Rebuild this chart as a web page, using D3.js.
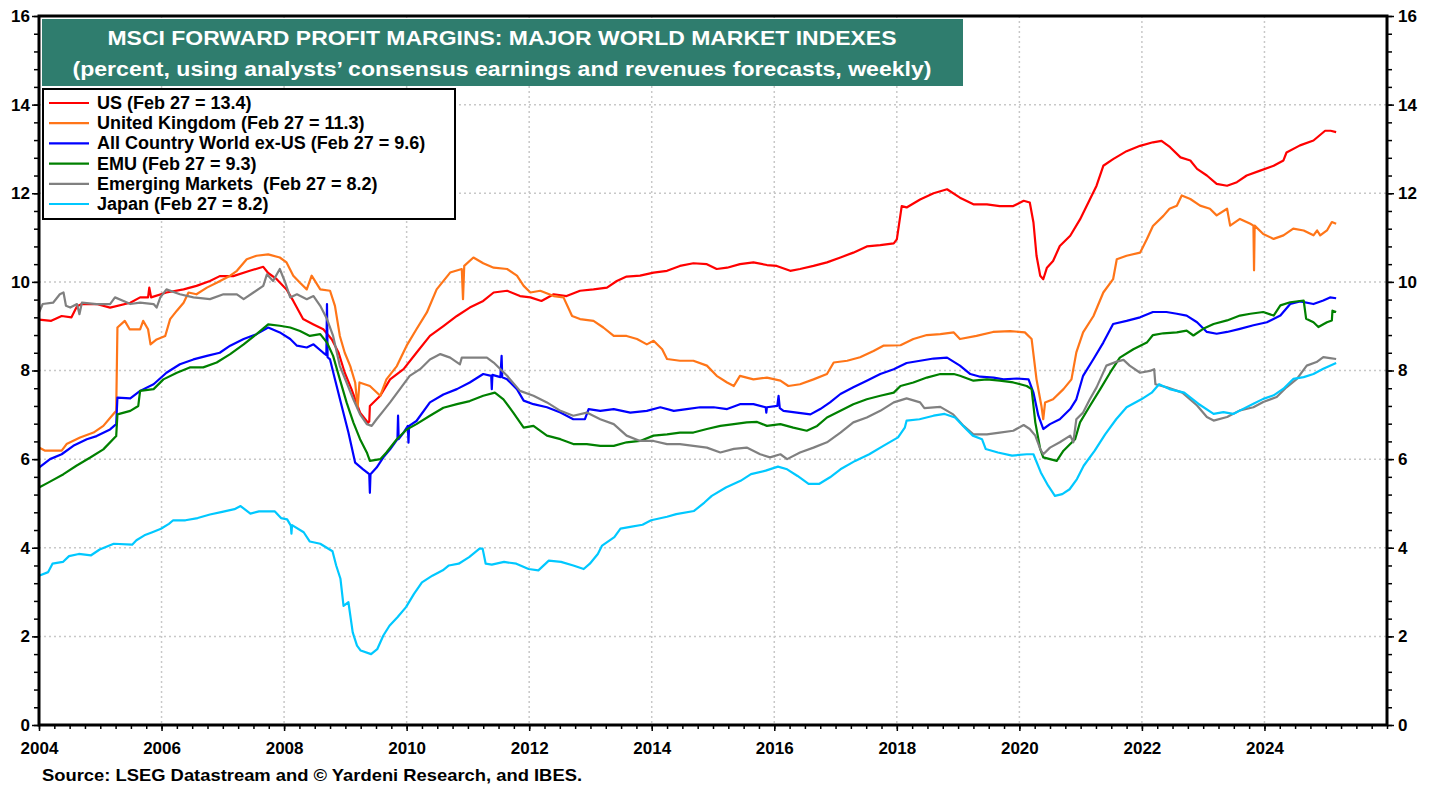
<!DOCTYPE html>
<html>
<head>
<meta charset="utf-8">
<script src="https://cdn.jsdelivr.net/npm/d3@7"></script>
<style>
  body { margin: 0; background: #fff; }
  text { font-family: Arial, "Liberation Sans", sans-serif; font-weight: bold; }
  .grid line { stroke: #c8c8c8; stroke-width: 1.5; stroke-dasharray: 2,3; }
  .axis text { font-size: 17px; fill: #000; }
  .axis line { stroke: #000; stroke-width: 1.5; }
  .legend text { white-space: pre; }
</style>
</head>
<body>
<div id="chart"></div>
<script>
// values, [year, percent]
const us = [[2004.0,9.15],[2004.2,9.12],[2004.37,9.23],[2004.53,9.2],[2004.62,9.45],[2004.7,9.5],[2004.94,9.5],[2005.16,9.42],[2005.49,9.53],[2005.65,9.65],[2005.78,9.65],[2005.8,9.87],[2005.83,9.65],[2006.08,9.76],[2006.36,9.83],[2006.57,9.91],[2006.79,10.02],[2006.95,10.13],[2007.17,10.13],[2007.44,10.25],[2007.66,10.34],[2007.74,10.2],[2007.88,10.06],[2008.04,9.83],[2008.15,9.57],[2008.31,9.16],[2008.48,9.04],[2008.64,8.93],[2008.78,8.7],[2008.89,8.4],[2008.99,7.95],[2009.1,7.58],[2009.24,7.05],[2009.37,6.82],[2009.39,6.85],[2009.4,7.2],[2009.57,7.43],[2009.73,7.8],[2009.95,8.03],[2010.16,8.4],[2010.38,8.78],[2010.6,9.0],[2010.82,9.23],[2011.03,9.42],[2011.25,9.57],[2011.42,9.76],[2011.64,9.8],[2011.85,9.68],[2012.02,9.65],[2012.2,9.57],[2012.4,9.72],[2012.61,9.68],[2012.83,9.8],[2013.05,9.83],[2013.27,9.87],[2013.43,10.02],[2013.59,10.12],[2013.81,10.14],[2014.03,10.21],[2014.25,10.25],[2014.46,10.36],[2014.68,10.42],[2014.9,10.4],[2015.06,10.29],[2015.23,10.32],[2015.44,10.4],[2015.66,10.44],[2015.88,10.38],[2016.04,10.36],[2016.26,10.25],[2016.42,10.29],[2016.64,10.36],[2016.86,10.44],[2017.08,10.55],[2017.29,10.66],[2017.51,10.8],[2017.73,10.83],[2017.95,10.87],[2018.0,10.96],[2018.08,11.71],[2018.16,11.68],[2018.38,11.86],[2018.6,12.0],[2018.82,12.09],[2019.03,11.9],[2019.25,11.75],[2019.47,11.75],[2019.68,11.71],[2019.9,11.71],[2020.07,11.83],[2020.17,11.79],[2020.23,11.34],[2020.28,10.59],[2020.34,10.14],[2020.39,10.06],[2020.45,10.32],[2020.55,10.47],[2020.66,10.81],[2020.83,11.04],[2020.99,11.41],[2021.15,11.86],[2021.26,12.17],[2021.37,12.62],[2021.53,12.77],[2021.75,12.95],[2021.97,13.07],[2022.18,13.15],[2022.32,13.18],[2022.46,13.04],[2022.63,12.81],[2022.79,12.74],[2022.9,12.55],[2023.06,12.4],[2023.22,12.21],[2023.39,12.17],[2023.55,12.25],[2023.71,12.4],[2023.93,12.51],[2024.15,12.62],[2024.31,12.74],[2024.36,12.92],[2024.58,13.08],[2024.8,13.19],[2024.99,13.41],[2025.08,13.41],[2025.17,13.38]];

const uk = [[2004.0,6.26],[2004.1,6.19],[2004.37,6.19],[2004.45,6.34],[2004.67,6.49],[2004.89,6.6],[2005.05,6.75],[2005.19,6.98],[2005.26,7.09],[2005.28,8.97],[2005.4,9.12],[2005.48,8.93],[2005.65,8.93],[2005.7,9.12],[2005.78,8.93],[2005.82,8.59],[2005.92,8.7],[2006.06,8.78],[2006.14,9.16],[2006.25,9.35],[2006.36,9.53],[2006.44,9.76],[2006.57,9.72],[2006.74,9.87],[2006.9,9.98],[2007.12,10.14],[2007.23,10.25],[2007.39,10.51],[2007.55,10.59],[2007.74,10.62],[2007.93,10.55],[2008.04,10.44],[2008.15,10.14],[2008.26,9.98],[2008.37,9.83],[2008.45,10.14],[2008.59,9.83],[2008.75,9.8],[2008.83,9.46],[2008.91,8.78],[2008.99,8.4],[2009.08,8.1],[2009.16,7.73],[2009.2,7.16],[2009.23,7.73],[2009.4,7.65],[2009.57,7.43],[2009.67,7.8],[2009.84,8.1],[2010.0,8.56],[2010.16,8.93],[2010.33,9.31],[2010.49,9.83],[2010.71,10.21],[2010.9,10.29],[2010.92,9.61],[2010.94,10.36],[2011.09,10.55],[2011.25,10.42],[2011.42,10.32],[2011.64,10.29],[2011.8,10.14],[2011.91,9.91],[2012.02,9.76],[2012.18,9.8],[2012.4,9.68],[2012.56,9.65],[2012.7,9.23],[2012.83,9.16],[2013.05,9.12],[2013.21,8.97],[2013.38,8.78],[2013.59,8.78],[2013.76,8.71],[2013.92,8.59],[2014.03,8.67],[2014.17,8.48],[2014.25,8.26],[2014.46,8.22],[2014.68,8.22],[2014.9,8.11],[2015.06,7.88],[2015.23,7.73],[2015.34,7.65],[2015.44,7.88],[2015.66,7.8],[2015.88,7.84],[2016.1,7.77],[2016.23,7.65],[2016.42,7.69],[2016.64,7.8],[2016.86,7.92],[2016.97,8.18],[2017.19,8.22],[2017.4,8.3],[2017.62,8.44],[2017.78,8.56],[2018.06,8.57],[2018.27,8.71],[2018.49,8.8],[2018.71,8.82],[2018.93,8.86],[2019.03,8.71],[2019.3,8.78],[2019.57,8.87],[2019.85,8.89],[2020.09,8.86],[2020.2,8.71],[2020.28,7.8],[2020.36,7.2],[2020.39,6.9],[2020.42,7.28],[2020.55,7.35],[2020.72,7.58],[2020.85,7.8],[2020.93,8.41],[2021.04,8.86],[2021.21,9.23],[2021.37,9.76],[2021.53,10.06],[2021.59,10.51],[2021.75,10.59],[2021.97,10.66],[2022.08,10.96],[2022.18,11.26],[2022.35,11.49],[2022.45,11.65],[2022.57,11.72],[2022.65,11.95],[2022.79,11.87],[2022.95,11.72],[2023.11,11.65],[2023.22,11.5],[2023.39,11.65],[2023.44,11.27],[2023.6,11.42],[2023.77,11.31],[2023.82,11.27],[2023.83,10.26],[2023.84,11.27],[2023.98,11.08],[2024.15,10.97],[2024.31,11.05],[2024.47,11.2],[2024.64,11.16],[2024.8,11.05],[2024.86,11.16],[2024.91,11.05],[2025.02,11.16],[2025.1,11.35],[2025.17,11.31]];

const acwi = [[2004.0,5.81],[2004.18,6.0],[2004.37,6.11],[2004.56,6.3],[2004.78,6.45],[2004.94,6.52],[2005.16,6.67],[2005.26,6.79],[2005.28,7.39],[2005.49,7.37],[2005.65,7.54],[2005.87,7.69],[2006.08,7.95],[2006.3,8.14],[2006.52,8.25],[2006.74,8.33],[2006.95,8.4],[2007.12,8.56],[2007.34,8.71],[2007.55,8.82],[2007.74,8.97],[2007.93,8.86],[2008.1,8.71],[2008.21,8.56],[2008.37,8.52],[2008.48,8.59],[2008.64,8.4],[2008.69,8.35],[2008.7,9.5],[2008.71,8.3],[2008.75,8.25],[2008.83,7.8],[2008.94,7.2],[2009.05,6.6],[2009.16,5.92],[2009.29,5.77],[2009.39,5.66],[2009.4,5.24],[2009.41,5.66],[2009.51,5.81],[2009.62,6.04],[2009.73,6.22],[2009.85,6.45],[2009.86,6.98],[2009.87,6.45],[2009.95,6.6],[2010.02,6.75],[2010.03,6.37],[2010.04,6.75],[2010.16,6.86],[2010.38,7.28],[2010.6,7.46],[2010.82,7.58],[2011.03,7.73],[2011.25,7.92],[2011.38,7.88],[2011.39,7.58],[2011.4,7.9],[2011.53,7.85],[2011.55,8.33],[2011.56,7.85],[2011.64,7.8],[2011.8,7.58],[2011.91,7.32],[2012.07,7.24],[2012.29,7.17],[2012.51,7.05],[2012.72,6.9],[2012.91,6.9],[2012.97,7.13],[2013.16,7.09],[2013.38,7.13],[2013.65,7.05],[2013.92,7.09],[2014.14,7.17],[2014.36,7.09],[2014.57,7.13],[2014.79,7.17],[2015.01,7.17],[2015.23,7.13],[2015.44,7.24],[2015.66,7.24],[2015.86,7.17],[2015.87,7.05],[2015.88,7.17],[2016.05,7.2],[2016.07,7.43],[2016.09,7.15],[2016.15,7.09],[2016.37,7.05],[2016.59,7.01],[2016.75,7.13],[2016.91,7.28],[2017.08,7.47],[2017.29,7.62],[2017.51,7.77],[2017.73,7.92],[2017.95,8.03],[2018.16,8.17],[2018.38,8.22],[2018.6,8.27],[2018.82,8.29],[2019.03,8.11],[2019.2,7.92],[2019.36,7.86],[2019.58,7.84],[2019.74,7.8],[2019.96,7.82],[2020.15,7.8],[2020.23,7.5],[2020.31,6.98],[2020.39,6.68],[2020.5,6.79],[2020.66,6.9],[2020.83,7.13],[2020.93,7.35],[2021.04,7.88],[2021.21,8.26],[2021.37,8.63],[2021.53,9.05],[2021.75,9.12],[2021.97,9.2],[2022.18,9.32],[2022.4,9.32],[2022.57,9.28],[2022.73,9.24],[2022.9,9.09],[2023.06,8.87],[2023.22,8.83],[2023.39,8.87],[2023.6,8.94],[2023.82,9.02],[2024.04,9.09],[2024.26,9.24],[2024.42,9.5],[2024.58,9.56],[2024.8,9.5],[2024.96,9.58],[2025.07,9.65],[2025.17,9.63]];

const emu = [[2004.0,5.36],[2004.15,5.47],[2004.4,5.66],[2004.61,5.85],[2004.83,6.03],[2005.05,6.22],[2005.26,6.52],[2005.28,7.01],[2005.49,7.09],[2005.62,7.2],[2005.65,7.54],[2005.87,7.58],[2006.03,7.8],[2006.25,7.95],[2006.46,8.07],[2006.68,8.07],[2006.9,8.18],[2007.12,8.37],[2007.34,8.59],[2007.55,8.82],[2007.74,9.04],[2007.93,9.01],[2008.1,8.97],[2008.26,8.89],[2008.42,8.78],[2008.59,8.82],[2008.7,8.63],[2008.8,8.33],[2008.91,7.8],[2009.02,7.28],[2009.13,6.83],[2009.24,6.45],[2009.35,6.15],[2009.4,5.96],[2009.57,6.0],[2009.67,6.15],[2009.84,6.45],[2010.0,6.67],[2010.16,6.79],[2010.38,6.98],[2010.6,7.16],[2010.82,7.24],[2011.03,7.31],[2011.25,7.43],[2011.44,7.5],[2011.58,7.35],[2011.74,7.05],[2011.91,6.71],[2012.07,6.75],[2012.29,6.53],[2012.51,6.45],[2012.72,6.34],[2012.94,6.34],[2013.16,6.3],[2013.38,6.3],[2013.59,6.38],[2013.81,6.41],[2014.03,6.53],[2014.25,6.56],[2014.46,6.6],[2014.68,6.6],[2014.9,6.68],[2015.12,6.75],[2015.34,6.79],[2015.55,6.83],[2015.72,6.84],[2015.88,6.75],[2016.1,6.79],[2016.31,6.71],[2016.53,6.64],[2016.7,6.75],[2016.86,6.94],[2017.08,7.09],[2017.29,7.24],[2017.51,7.35],[2017.73,7.43],[2017.95,7.5],[2018.06,7.65],[2018.27,7.73],[2018.49,7.84],[2018.71,7.92],[2018.93,7.92],[2019.03,7.88],[2019.25,7.77],[2019.47,7.8],[2019.68,7.77],[2019.9,7.73],[2020.12,7.65],[2020.2,7.58],[2020.26,6.83],[2020.34,6.23],[2020.39,6.04],[2020.5,6.0],[2020.61,5.96],[2020.72,6.19],[2020.83,6.34],[2020.91,6.45],[2020.99,6.83],[2021.15,7.2],[2021.32,7.58],[2021.48,7.95],[2021.64,8.29],[2021.86,8.48],[2022.08,8.63],[2022.18,8.8],[2022.35,8.84],[2022.57,8.86],[2022.73,8.9],[2022.84,8.79],[2023.0,8.94],[2023.17,9.05],[2023.39,9.13],[2023.6,9.24],[2023.77,9.28],[2023.98,9.32],[2024.15,9.24],[2024.26,9.47],[2024.42,9.54],[2024.64,9.58],[2024.68,9.17],[2024.8,9.09],[2024.88,8.98],[2025.02,9.09],[2025.1,9.13],[2025.11,9.35],[2025.17,9.32]];

const em = [[2004.0,9.31],[2004.06,9.5],[2004.23,9.53],[2004.34,9.72],[2004.4,9.76],[2004.44,9.46],[2004.51,9.42],[2004.62,9.5],[2004.66,9.27],[2004.7,9.53],[2004.94,9.5],[2005.16,9.5],[2005.24,9.65],[2005.38,9.57],[2005.49,9.5],[2005.65,9.53],[2005.87,9.5],[2005.92,9.42],[2005.98,9.65],[2006.08,9.83],[2006.3,9.72],[2006.52,9.65],[2006.79,9.61],[2007.01,9.72],[2007.23,9.72],[2007.34,9.61],[2007.5,9.76],[2007.66,9.91],[2007.72,10.17],[2007.82,10.02],[2007.93,10.29],[2008.02,9.98],[2008.1,9.65],[2008.21,9.72],[2008.37,9.61],[2008.48,9.68],[2008.59,9.46],[2008.7,9.16],[2008.8,8.78],[2008.91,8.1],[2009.02,7.73],[2009.13,7.35],[2009.24,7.01],[2009.35,6.79],[2009.43,6.75],[2009.51,6.9],[2009.62,7.09],[2009.73,7.28],[2009.89,7.58],[2010.05,7.88],[2010.22,8.03],[2010.38,8.25],[2010.55,8.37],[2010.71,8.29],[2010.87,8.14],[2010.9,8.29],[2011.09,8.29],[2011.31,8.29],[2011.42,8.18],[2011.64,7.88],[2011.85,7.54],[2012.07,7.43],[2012.29,7.28],[2012.51,7.09],[2012.72,6.98],[2012.94,7.05],[2013.16,6.9],[2013.38,6.79],[2013.59,6.53],[2013.81,6.41],[2014.03,6.41],[2014.25,6.34],[2014.46,6.34],[2014.68,6.3],[2014.9,6.26],[2015.12,6.15],[2015.34,6.23],[2015.55,6.26],[2015.77,6.11],[2015.93,6.04],[2016.1,6.11],[2016.21,6.0],[2016.42,6.15],[2016.64,6.26],[2016.86,6.38],[2017.08,6.6],[2017.29,6.83],[2017.51,6.94],[2017.73,7.09],[2017.95,7.28],[2018.16,7.37],[2018.38,7.28],[2018.45,7.15],[2018.71,7.18],[2018.92,7.01],[2019.09,6.75],[2019.25,6.56],[2019.47,6.56],[2019.68,6.6],[2019.9,6.64],[2020.07,6.77],[2020.17,6.68],[2020.26,6.53],[2020.34,6.23],[2020.39,6.11],[2020.5,6.26],[2020.66,6.38],[2020.83,6.53],[2020.88,6.38],[2020.93,6.9],[2021.04,7.05],[2021.15,7.35],[2021.26,7.62],[2021.42,8.11],[2021.59,8.2],[2021.7,8.24],[2021.8,8.11],[2021.97,7.95],[2022.13,7.99],[2022.2,8.03],[2022.22,7.69],[2022.41,7.62],[2022.66,7.5],[2022.9,7.21],[2023.06,6.95],[2023.17,6.87],[2023.39,6.95],[2023.6,7.1],[2023.82,7.17],[2023.98,7.29],[2024.2,7.4],[2024.36,7.62],[2024.53,7.81],[2024.69,8.11],[2024.85,8.19],[2024.96,8.3],[2025.07,8.28],[2025.17,8.26]];

const japan = [[2004.0,3.37],[2004.15,3.45],[2004.22,3.64],[2004.39,3.68],[2004.49,3.81],[2004.65,3.86],[2004.85,3.83],[2004.99,3.96],[2005.22,4.09],[2005.52,4.07],[2005.59,4.17],[2005.72,4.28],[2005.85,4.35],[2005.99,4.43],[2006.12,4.54],[2006.19,4.62],[2006.39,4.62],[2006.59,4.67],[2006.79,4.75],[2006.99,4.81],[2007.19,4.87],[2007.29,4.94],[2007.45,4.77],[2007.59,4.82],[2007.85,4.82],[2007.95,4.67],[2008.05,4.64],[2008.11,4.5],[2008.12,4.32],[2008.13,4.51],[2008.32,4.35],[2008.42,4.14],[2008.59,4.09],[2008.79,3.92],[2008.85,3.6],[2008.92,3.3],[2008.97,2.69],[2009.05,2.77],[2009.12,2.09],[2009.19,1.79],[2009.25,1.68],[2009.42,1.6],[2009.52,1.71],[2009.62,2.02],[2009.72,2.24],[2009.85,2.43],[2009.99,2.66],[2010.12,2.96],[2010.25,3.22],[2010.42,3.37],[2010.59,3.49],[2010.69,3.6],[2010.85,3.64],[2011.02,3.79],[2011.19,3.98],[2011.24,3.98],[2011.29,3.64],[2011.39,3.62],[2011.59,3.68],[2011.79,3.64],[2011.99,3.52],[2012.15,3.49],[2012.32,3.71],[2012.52,3.68],[2012.72,3.6],[2012.89,3.52],[2012.99,3.64],[2013.12,3.86],[2013.19,4.05],[2013.39,4.24],[2013.49,4.43],[2013.65,4.47],[2013.85,4.52],[2013.99,4.62],[2014.25,4.7],[2014.4,4.76],[2014.69,4.83],[2014.86,5.02],[2014.98,5.17],[2015.21,5.36],[2015.45,5.51],[2015.62,5.66],[2015.86,5.74],[2016.06,5.83],[2016.21,5.77],[2016.38,5.62],[2016.56,5.44],[2016.73,5.44],[2016.91,5.59],[2017.08,5.77],[2017.32,5.96],[2017.55,6.11],[2017.78,6.3],[2018.02,6.49],[2018.13,6.71],[2018.16,6.87],[2018.37,6.9],[2018.6,6.98],[2018.78,7.02],[2018.95,6.94],[2019.13,6.68],[2019.24,6.53],[2019.39,6.45],[2019.45,6.23],[2019.65,6.15],[2019.88,6.08],[2020.12,6.11],[2020.23,6.11],[2020.35,5.7],[2020.47,5.4],[2020.58,5.17],[2020.7,5.21],[2020.82,5.32],[2020.94,5.55],[2021.05,5.85],[2021.23,6.19],[2021.4,6.56],[2021.58,6.9],[2021.75,7.17],[2021.99,7.35],[2022.16,7.5],[2022.28,7.69],[2022.45,7.58],[2022.69,7.5],[2022.92,7.25],[2023.17,7.02],[2023.33,7.06],[2023.49,7.02],[2023.66,7.14],[2023.82,7.25],[2023.98,7.36],[2024.15,7.44],[2024.31,7.59],[2024.47,7.81],[2024.64,7.85],[2024.8,7.92],[2024.96,8.04],[2025.17,8.17]];

const seriesNames = ["US (Feb 27 = 13.4)", "United Kingdom (Feb 27 = 11.3)", "All Country World ex-US (Feb 27 = 9.6)",
    "EMU (Feb 27 = 9.3)", "Emerging Markets  (Feb 27 = 8.2)", "Japan (Feb 27 = 8.2)"];
const seriesColors = ["#ff0000", "#ff7518", "#0000ff", "#008000", "#808080", "#00c8ff"];
const seriesData = [us, uk, acwi, emu, em, japan];

const yMajor = d3.range(0, 16.01, 2);
const yMinor = d3.range(0, 16.01, 0.4);
const xMajor = d3.range(2004, 2025, 2);
const xMinor = d3.range(2004, 2026.01, 0.25);

const width = 1438;
const height = 789;
const plot = {left: 39, right: 1387, top: 16, bottom: 725};

const svg = d3.select("#chart")
    .append("svg")
    .attr("width", width)
    .attr("height", height);

const xScale = d3.scaleLinear()
    .domain([2004, 2026])
    .range([plot.left, plot.right]);
const yScale = d3.scaleLinear()
    .domain([0, 16])
    .range([plot.bottom, plot.top]);

// dotted grid
const grid = svg.append("g").attr("class", "grid");
grid.selectAll(".h")
    .data(yMajor.filter(d => d > 0 && d < 16))
    .enter()
    .append("line")
        .attr("x1", plot.left).attr("x2", plot.right)
        .attr("y1", d => yScale(d)).attr("y2", d => yScale(d));
grid.selectAll(".v")
    .data(xMajor.filter(d => d > 2004))
    .enter()
    .append("line")
        .attr("x1", d => xScale(d)).attr("x2", d => xScale(d))
        .attr("y1", plot.top).attr("y2", plot.bottom);

// axes: minor ticks first, then labelled majors
svg.append("g").attr("class", "axis")
    .attr("transform", `translate(${plot.left},0)`)
    .call(d3.axisLeft(yScale).tickValues(yMinor).tickSize(5).tickFormat(""));
svg.append("g").attr("class", "axis")
    .attr("transform", `translate(${plot.left},0)`)
    .call(d3.axisLeft(yScale).tickValues(yMajor).tickSize(7).tickPadding(2).tickFormat(d3.format("d")));
svg.append("g").attr("class", "axis")
    .attr("transform", `translate(${plot.right},0)`)
    .call(d3.axisRight(yScale).tickValues(yMinor).tickSize(5).tickFormat(""));
svg.append("g").attr("class", "axis")
    .attr("transform", `translate(${plot.right},0)`)
    .call(d3.axisRight(yScale).tickValues(yMajor).tickSize(7).tickPadding(4).tickFormat(d3.format("d")));
svg.append("g").attr("class", "axis")
    .attr("transform", `translate(0,${plot.bottom})`)
    .call(d3.axisBottom(xScale).tickValues(xMinor).tickSize(4).tickFormat(""));
svg.append("g").attr("class", "axis")
    .attr("transform", `translate(0,${plot.bottom})`)
    .call(d3.axisBottom(xScale).tickValues(xMajor).tickSize(6).tickPadding(11).tickFormat(d3.format("d")));
svg.selectAll(".axis .domain").remove();

// series
const line = d3.line()
    .x(d => xScale(d[0]))
    .y(d => yScale(d[1]));

svg.append("g")
    .selectAll("path")
    .data(seriesData)
    .enter()
    .append("path")
        .attr("d", line)
        .attr("fill", "none")
        .attr("stroke", (d, i) => seriesColors[i])
        .attr("stroke-width", 2.2)
        .attr("stroke-linejoin", "round");

// frame
svg.append("rect")
    .attr("x", plot.left).attr("y", plot.top)
    .attr("width", plot.right - plot.left)
    .attr("height", plot.bottom - plot.top)
    .attr("fill", "none")
    .attr("stroke", "#000")
    .attr("stroke-width", 3);

// title box
svg.append("rect")
    .attr("x", 42).attr("y", 19)
    .attr("width", 921).attr("height", 67)
    .attr("fill", "#2f7d6e");
svg.append("text")
    .attr("x", 502).attr("y", 45)
    .attr("text-anchor", "middle")
    .attr("font-size", 20)
    .attr("fill", "#fff")
    .attr("textLength", 789)
    .attr("lengthAdjust", "spacingAndGlyphs")
    .text("MSCI FORWARD PROFIT MARGINS: MAJOR WORLD MARKET INDEXES");
svg.append("text")
    .attr("x", 502).attr("y", 76)
    .attr("text-anchor", "middle")
    .attr("font-size", 20)
    .attr("fill", "#fff")
    .attr("textLength", 859)
    .attr("lengthAdjust", "spacingAndGlyphs")
    .text("(percent, using analysts\u2019 consensus earnings and revenues forecasts, weekly)");

// legend
const legend = svg.append("g").attr("class", "legend");
legend.append("rect")
    .attr("x", 43).attr("y", 89)
    .attr("width", 412).attr("height", 130)
    .attr("fill", "#fff")
    .attr("stroke", "#000")
    .attr("stroke-width", 2);
const rows = legend.selectAll(".row")
    .data(seriesNames)
    .enter()
    .append("g")
        .attr("transform", (d, i) => `translate(0,${103 + i * 20.2})`);
rows.append("line")
    .attr("x1", 49).attr("x2", 89)
    .attr("stroke", (d, i) => seriesColors[i])
    .attr("stroke-width", 2.2);
rows.append("text")
    .attr("x", 97).attr("y", 6)
    .attr("font-size", 18)
    .text(d => d);

// source
svg.append("text")
    .attr("x", 42).attr("y", 781)
    .attr("font-size", 17)
    .attr("textLength", 540)
    .attr("lengthAdjust", "spacingAndGlyphs")
    .text("Source: LSEG Datastream and \u00a9 Yardeni Research, and IBES.");
</script>
</body>
</html>
